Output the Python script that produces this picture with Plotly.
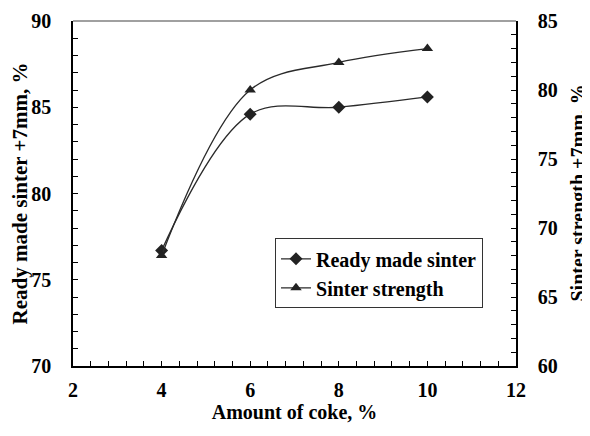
import plotly.graph_objects as go

coke = [4, 6, 8, 10]
ready_made = [76.7, 84.6, 85.0, 85.6]
strength = [68.0, 80.0, 82.0, 83.0]

x_ticks = [2, 4, 6, 8, 10, 12]
y_ticks = [70, 75, 80, 85, 90]
y2_ticks = [60, 65, 70, 75, 80, 85]

FONT = "Liberation Serif"
B = lambda s: f"<b>{s}</b>"

fig = go.Figure()
fig.add_trace(go.Scatter(
    x=coke, y=ready_made, name=B("Ready made sinter"), mode="lines+markers",
    line=dict(shape="spline", smoothing=1.0, color="#2a2a2a", width=1.3),
    marker=dict(symbol="diamond", size=10, color="#222222"),
))
fig.add_trace(go.Scatter(
    x=coke, y=strength, name=B("Sinter strength"), mode="lines+markers", yaxis="y2",
    line=dict(shape="spline", smoothing=1.0, color="#2a2a2a", width=1.3),
    marker=dict(symbol="triangle-up", size=10, color="#222222"),
))

tickfont = dict(family=FONT, size=20, color="black")
xtitlefont = dict(family=FONT, size=20, color="black")
ytitlefont = dict(family=FONT, size=21, color="black")
axcommon = dict(showgrid=False, zeroline=False, showline=True, linecolor="black", linewidth=1.5,
                ticks="inside", ticklen=5, tickcolor="black", tickfont=tickfont, automargin=False)

fig.update_layout(
    width=582, height=428,
    margin=dict(l=65, r=74, t=13, b=70),
    paper_bgcolor="white", plot_bgcolor="white",
    font=dict(family=FONT, color="black"),
    showlegend=True,
    legend=dict(x=0.456, y=0.37, xanchor="left", yanchor="top",
                bgcolor="white", bordercolor="#333333", borderwidth=1,
                font=dict(family=FONT, size=20, color="black"),
                tracegroupgap=0, itemwidth=30),
    xaxis=dict(range=[2, 12], tickvals=x_ticks, ticktext=[B(v) for v in x_ticks],
               title=dict(text=B("Amount of coke, %"), font=xtitlefont, standoff=4),
               minor=dict(dtick=0.4, tick0=2, ticks="inside", ticklen=5, tickcolor="black"),
               ticklabelstandoff=5,
               **axcommon),
    yaxis=dict(range=[70, 90], tickvals=y_ticks, ticktext=[B(v) for v in y_ticks],
               title=dict(text=B("Ready made sinter +7mm, %"), font=ytitlefont, standoff=4),
               minor=dict(dtick=1, ticks="inside", ticklen=5, tickcolor="black"),
               ticklabelstandoff=16,
               **axcommon),
    yaxis2=dict(range=[60, 85], tickvals=y2_ticks, ticktext=[B(v) for v in y2_ticks],
                overlaying="y", side="right",
                minor=dict(dtick=1, ticks="inside", ticklen=5, tickcolor="black"),
                ticklabelstandoff=16,
                **axcommon),
)
fig.add_annotation(text=B("Sinter strength +7mm, %"), xref="paper", yref="paper",
                   x=1.14, y=0.5, xanchor="center", yanchor="middle", textangle=-90,
                   showarrow=False, font=dict(family=FONT, size=20, color="black"))
fig.add_shape(type="line", xref="paper", yref="paper", x0=0, x1=1, y0=1, y1=1,
              line=dict(color="#808080", width=1.5))

fig.write_html("out.html")
